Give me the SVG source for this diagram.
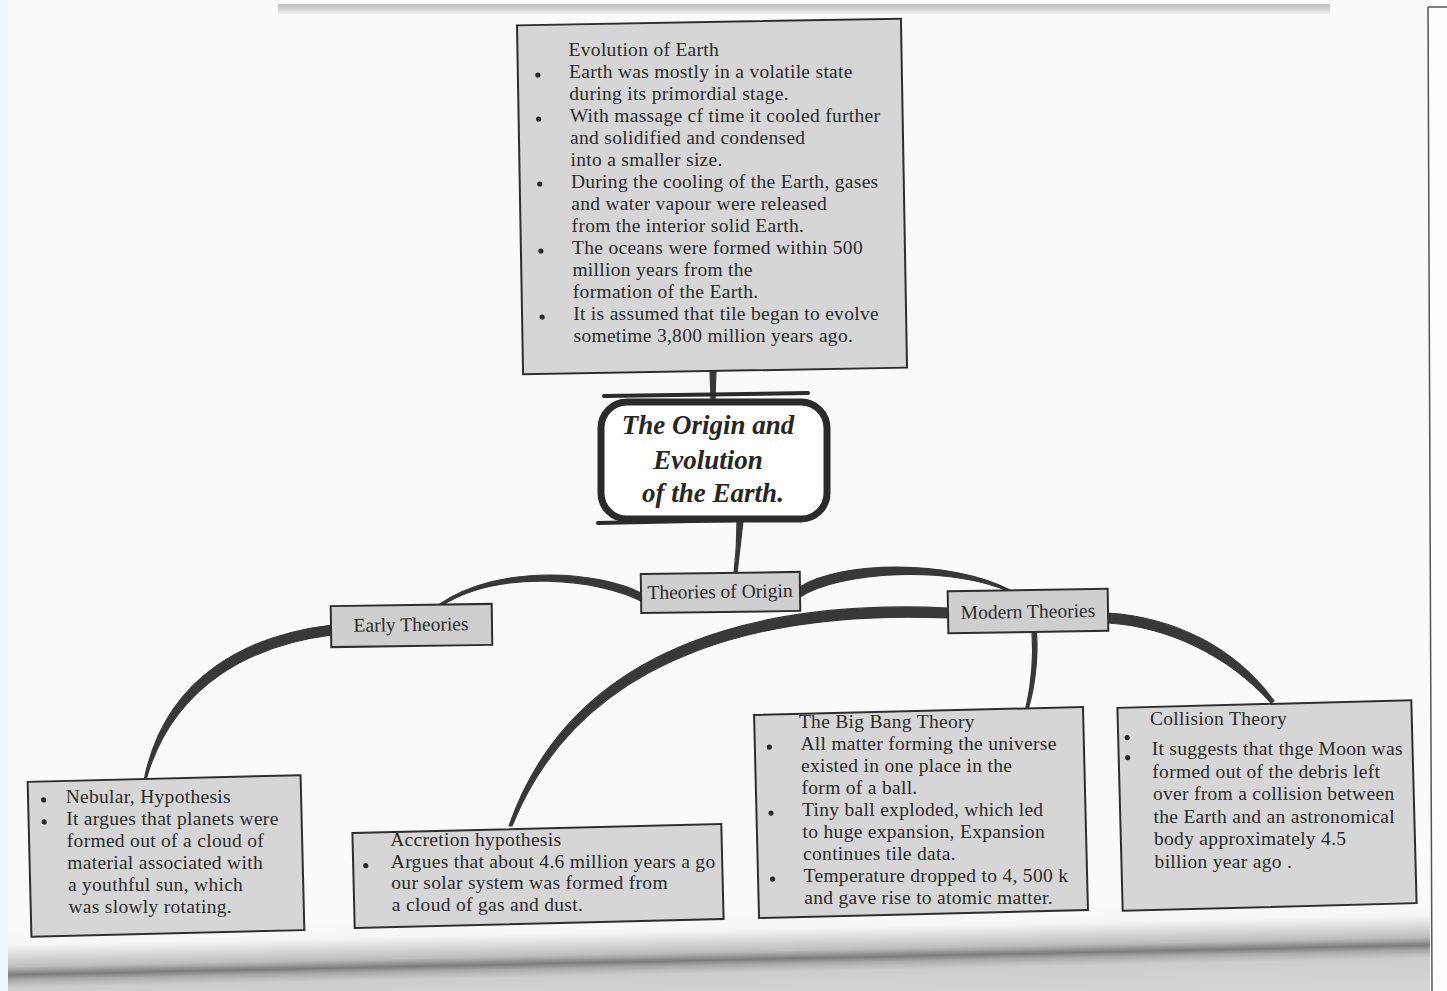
<svg xmlns="http://www.w3.org/2000/svg" width="1447" height="991" viewBox="0 0 1447 991">
<defs>
<style>
.box{fill:#d6d6d6;stroke:#2e2e2e;stroke-width:2}
.lbl{fill:#cfcfcf;stroke:#2e2e2e;stroke-width:2}
.t{font-family:"Liberation Serif","Times New Roman",serif;font-size:19.5px;letter-spacing:0.3px;fill:#2a2a2a}
.c{text-anchor:middle;letter-spacing:0}
.b{fill:#2a2a2a}
.conn{fill:#383838;stroke:#383838;stroke-width:1.2;stroke-linejoin:round}
.frame{fill:none;stroke:#2b2b2b;stroke-linecap:round}
.title{font-family:"Liberation Serif","Times New Roman",serif;font-size:27px;font-weight:bold;font-style:italic;fill:#262626;text-anchor:middle}
</style>
<linearGradient id="fold" x1="0" y1="0" x2="0" y2="1">
<stop offset="0" stop-color="#fafafa"/>
<stop offset="0.15" stop-color="#f6f6f6"/>
<stop offset="0.37" stop-color="#bdbdbd"/>
<stop offset="0.45" stop-color="#7c7c7c"/>
<stop offset="0.5" stop-color="#a9a9a9"/>
<stop offset="0.58" stop-color="#cdcdcd"/>
<stop offset="1" stop-color="#d8d8d8"/>
</linearGradient>
<linearGradient id="topstrip" x1="0" y1="0" x2="0" y2="1">
<stop offset="0" stop-color="#bdbdbd"/>
<stop offset="1" stop-color="#eeeeee"/>
</linearGradient>
</defs>

<g id="page">
<rect x="0" y="0" width="1447" height="991" fill="#fafafa"/>
<rect x="278" y="4" width="1052" height="10" fill="url(#topstrip)"/>
<g transform="rotate(-1.2 720 956)">
<rect x="-20" y="915" width="1500" height="100" fill="url(#fold)"/>
</g>
<rect x="0" y="0" width="8" height="991" fill="#f3f5f8"/>
<rect x="1430" y="0" width="17" height="991" fill="#fdfdfd"/>
<path d="M1428 7 L1432 991 M1428 7 L1447 7" fill="none" stroke="#555" stroke-width="1.5"/>
</g>

<g id="connectors">
<path class="conn" d="M710 371 L716 371 L715 399 L711 399 Z"/>
<path class="conn" d="M737 521 L743 521 C741 540 739 556 737 573 L734 573 C736 556 737 540 737 521 Z"/>
<path class="conn" d="M643 594 C600 571 500 563 440 604 L441 606 C500 568 600 579 643 602 Z"/>
<path class="conn" d="M800 587 C840 561 950 559 1010 590 L1010 592 C950 565 840 571 800 597 Z"/>
<path class="conn" d="M332 625 C248 635 166 676 144.5 778 L146.5 778 C174 684 252 645 332 635 Z"/>
<path class="conn" d="M948 608 C778 600 575 636 509 826 L512 826 C585 645 782 611 948 618 Z"/>
<path class="conn" d="M1032 632 C1034 660 1030 690 1026 708 L1028.5 708 C1034 690 1038.5 660 1036.5 632 Z"/>
<path class="conn" d="M1108 613 C1172 617 1234 646 1274 701 L1271 703 C1228 655 1168 627 1108 623 Z"/>
</g>

<g id="node-evolution">
<g transform="rotate(-1 712 196)">
<rect class="box" x="520" y="22" width="384" height="349"/>
<circle class="b" cx="540" cy="72" r="2.6"/>
<circle class="b" cx="540" cy="116" r="2.6"/>
<circle class="b" cx="540" cy="181" r="2.6"/>
<circle class="b" cx="540" cy="248" r="2.6"/>
<circle class="b" cx="540" cy="314" r="2.6"/>
</g>
<text class="t" x="568.6" y="56">Evolution of Earth</text>
<text class="t" x="569" y="78">Earth was mostly in a volatile state</text>
<text class="t" x="569.3" y="100">during its primordial stage.</text>
<text class="t" x="569.7" y="122">With massage cf time it cooled further</text>
<text class="t" x="570.1" y="144">and solidified and condensed</text>
<text class="t" x="570.5" y="166">into a smaller size.</text>
<text class="t" x="570.9" y="188">During the cooling of the Earth, gases</text>
<text class="t" x="571.2" y="210">and water vapour were released</text>
<text class="t" x="571.6" y="232">from the interior solid Earth.</text>
<text class="t" x="572" y="254">The oceans were formed within 500</text>
<text class="t" x="572.4" y="276">million years from the</text>
<text class="t" x="572.8" y="298">formation of the Earth.</text>
<text class="t" x="573.2" y="320">It is assumed that tile began to evolve</text>
<text class="t" x="573.5" y="342">sometime 3,800 million years ago.</text>
</g>

<g id="node-title">
<rect x="601" y="402" width="226" height="117" rx="26" fill="#ffffff" stroke="#2b2b2b" stroke-width="7"/>
<path class="frame" d="M604 396 L808 393" stroke-width="4"/>
<path class="frame" d="M598 523 L790 519" stroke-width="4"/>
<text class="title" x="708" y="434">The Origin and</text>
<text class="title" x="708" y="469">Evolution</text>
<text class="title" x="713" y="502">of the Earth.</text>
</g>

<g id="node-theories" transform="rotate(-0.8 720 592)">
<rect class="lbl" x="641" y="573" width="159" height="39"/>
<text class="t c" x="720" y="598">Theories of Origin</text>
</g>

<g id="node-early" transform="rotate(-0.8 411 626)">
<rect class="lbl" x="331" y="605" width="161" height="41"/>
<text class="t c" x="411" y="631">Early Theories</text>
</g>

<g id="node-modern" transform="rotate(-0.9 1028 611)">
<rect class="lbl" x="948" y="590" width="160" height="42"/>
<text class="t c" x="1028" y="618">Modern Theories</text>
</g>

<g id="node-nebular">
<g transform="rotate(-1.4 166 856)">
<rect class="box" x="29.5" y="778.5" width="273" height="155"/>
<circle class="b" cx="45" cy="797" r="2.6"/>
<circle class="b" cx="45" cy="819" r="2.6"/>
</g>
<text class="t" x="65.7" y="802.5">Nebular, Hypothesis</text>
<text class="t" x="66.2" y="824.5">It argues that planets were</text>
<text class="t" x="66.8" y="846.5">formed out of a cloud of</text>
<text class="t" x="67.3" y="868.5">material associated with</text>
<text class="t" x="67.9" y="890.5">a youthful sun, which</text>
<text class="t" x="68.4" y="912.5">was slowly rotating.</text>
</g>

<g id="node-accretion">
<g transform="rotate(-1.4 538 876)">
<rect class="box" x="353.5" y="828.5" width="369" height="95"/>
<circle class="b" cx="366" cy="861.5" r="2.6"/>
</g>
<text class="t" x="390.2" y="845.8">Accretion hypothesis</text>
<text class="t" x="390.8" y="867.6">Argues that about 4.6 million years a go</text>
<text class="t" x="391.3" y="889.4">our solar system was formed from</text>
<text class="t" x="391.8" y="911.2">a cloud of gas and dust.</text>
</g>

<g id="node-bigbang">
<g transform="rotate(-1.4 921 812.5)">
<rect class="box" x="756.5" y="711" width="329" height="203"/>
<circle class="b" cx="771" cy="743.5" r="2.6"/>
<circle class="b" cx="771" cy="809.5" r="2.6"/>
<circle class="b" cx="771" cy="875.5" r="2.6"/>
</g>
<text class="t" x="798.9" y="727.5">The Big Bang Theory</text>
<text class="t" x="800.4" y="749.5">All matter forming the universe</text>
<text class="t" x="801" y="771.5">existed in one place in the</text>
<text class="t" x="801.5" y="793.5">form of a ball.</text>
<text class="t" x="802" y="815.5">Tiny ball exploded, which led</text>
<text class="t" x="802.6" y="837.5">to huge expansion, Expansion</text>
<text class="t" x="803.1" y="859.5">continues tile data.</text>
<text class="t" x="803.6" y="881.5">Temperature dropped to 4, 500 k</text>
<text class="t" x="804.2" y="903.5">and gave rise to atomic matter.</text>
</g>

<g id="node-collision">
<g transform="rotate(-1.5 1267 805.5)">
<rect class="box" x="1120" y="704" width="294" height="203"/>
<circle class="b" cx="1129" cy="734" r="2.6"/>
<circle class="b" cx="1129" cy="754" r="2.6"/>
</g>
<text class="t" x="1149.9" y="725">Collision Theory</text>
<text class="t" x="1151.7" y="755">It suggests that thge Moon was</text>
<text class="t" x="1152.3" y="777.6">formed out of the debris left</text>
<text class="t" x="1152.9" y="800.2">over from a collision between</text>
<text class="t" x="1153.5" y="822.8">the Earth and an astronomical</text>
<text class="t" x="1154" y="845.4">body approximately 4.5</text>
<text class="t" x="1154.6" y="868">billion year ago .</text>
</g>
</svg>
